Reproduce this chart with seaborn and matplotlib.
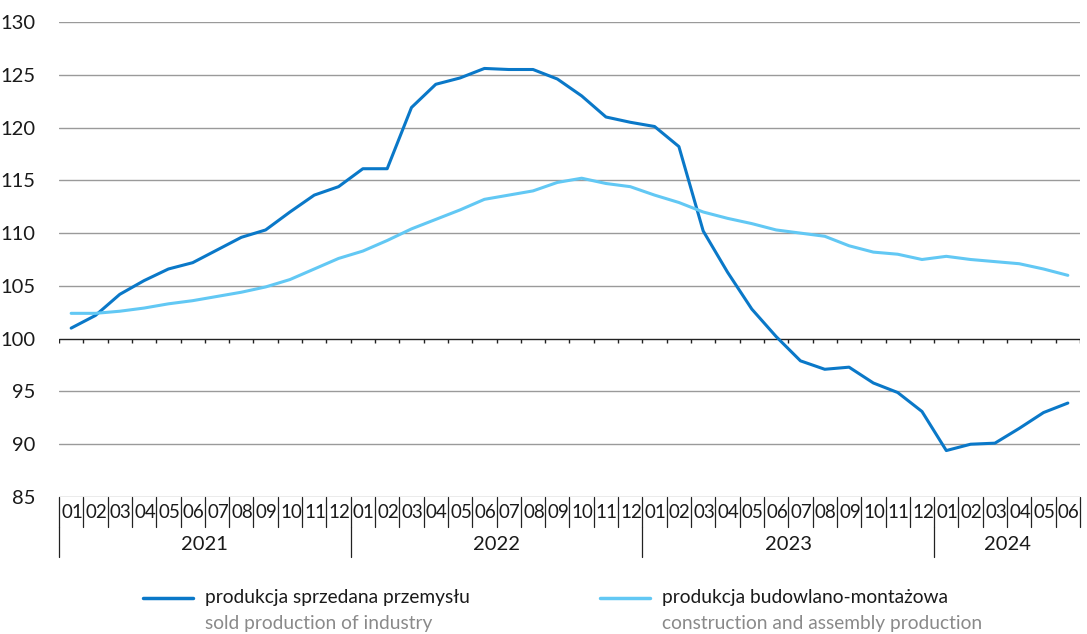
import numpy as np
import pandas as pd
import matplotlib
matplotlib.use("Agg")
import matplotlib.pyplot as plt
import matplotlib.transforms as mtransforms
from matplotlib.text import Text
import seaborn as sns

years = ["2021", "2022", "2023", "2024"]
months_per_year = [12, 12, 12, 6]
month_labels = [f"{m:02d}" for n in months_per_year for m in range(1, n + 1)]

industry = [101.0, 102.2, 104.2, 105.5, 106.6, 107.2, 108.4, 109.6, 110.3, 112.0, 113.6, 114.4,
            116.1, 116.1, 121.9, 124.1, 124.7, 125.6, 125.5, 125.5, 124.6, 123.0, 121.0, 120.5,
            120.1, 118.2, 110.2, 106.3, 102.8, 100.2, 97.9, 97.1, 97.3, 95.8, 94.9, 93.1,
            89.4, 90.0, 90.1, 91.5, 93.0, 93.9]
construction = [102.4, 102.4, 102.6, 102.9, 103.3, 103.6, 104.0, 104.4, 104.9, 105.6, 106.6, 107.6,
                108.3, 109.3, 110.4, 111.3, 112.2, 113.2, 113.6, 114.0, 114.8, 115.2, 114.7, 114.4,
                113.6, 112.9, 112.0, 111.4, 110.9, 110.3, 110.0, 109.7, 108.8, 108.2, 108.0, 107.5,
                107.8, 107.5, 107.3, 107.1, 106.6, 106.0]

series_pl = ["produkcja sprzedana przemysłu", "produkcja budowlano-montażowa"]
series_en = ["sold production of industry", "construction and assembly production"]
colors = ["#0a78c8", "#62c8f4"]

sns.set_theme(style="white")
plt.rcParams["font.family"] = ["Lato", "DejaVu Sans"]

n = len(month_labels)
idx = np.arange(n)
df = pd.DataFrame({
    "idx": np.concatenate([idx, idx]),
    "value": industry + construction,
    "series": [series_pl[0]] * n + [series_pl[1]] * n,
})

fig = plt.figure(figsize=(10.87, 6.34), dpi=100)
ax = fig.add_axes([59 / 1087, 1 - 497 / 634, (1080 - 59) / 1087, (497 - 22) / 634])

for yv in range(85, 131, 5):
    if yv == 100:
        continue
    ax.axhline(yv, color="#9a9a9a", lw=1.0, zorder=1)
ax.axhline(100, color="#222222", lw=1.0, zorder=2)

bounds = np.arange(n + 1) - 0.5
ax.vlines(bounds, 100 - 0.4, 100, color="#222222", lw=1.0, zorder=2)

sns.lineplot(data=df, x="idx", y="value", hue="series", palette=colors, lw=2.2,
             legend=False, ax=ax, zorder=3)

ax.set_xlim(-0.5, n - 0.5)
ax.set_ylim(85, 130)
ax.set_yticks(range(85, 131, 5))
ax.set_yticklabels([str(v) for v in range(85, 131, 5)], fontsize=14.5, color="#1a1a1a")
ax.tick_params(axis="y", length=0, pad=17)
ax.set_xticks([])
ax.set_xlabel("")
ax.set_ylabel("")
for s in ax.spines.values():
    s.set_visible(False)

trans = mtransforms.blended_transform_factory(ax.transData, fig.transFigure)
y_top = 1 - 497 / 634
y_mid = 1 - 527 / 634
y_bot = 1 - 557 / 634
for b in bounds:
    fig.add_artist(plt.Line2D([b, b], [y_top, y_mid], transform=trans, color="#222222", lw=0.9))
for i, lab in enumerate(month_labels):
    fig.add_artist(Text(i + 0.04, 1 - 513 / 634, lab, transform=trans, fontsize=13.5, color="#1a1a1a",
                        ha="center", va="center"))
start = 0
for yr, cnt in zip(years, months_per_year):
    b0 = start - 0.5
    fig.add_artist(plt.Line2D([b0, b0], [y_mid, y_bot], transform=trans, color="#222222", lw=0.9))
    mid = start + (cnt - 1) / 2
    fig.add_artist(Text(mid, 1 - 545 / 634, yr, transform=trans, fontsize=14.5, color="#1a1a1a",
                        ha="center", va="center"))
    start += cnt

leg_items = [(143, series_pl[0], series_en[0], colors[0]), (600, series_pl[1], series_en[1], colors[1])]
for x0, pl, en, c in leg_items:
    fig.add_artist(plt.Line2D([x0 / 1087, (x0 + 50) / 1087], [1 - 598 / 634] * 2,
                              transform=fig.transFigure, color=c, lw=2.5))
    fig.text((x0 + 62) / 1087, 1 - 598 / 634, pl, fontsize=13.8, color="#1a1a1a", va="center")
    fig.text((x0 + 62) / 1087, 1 - 624 / 634, en, fontsize=13.8, color="#8a8a8a", va="center")

fig.savefig("out.png", dpi=100)
